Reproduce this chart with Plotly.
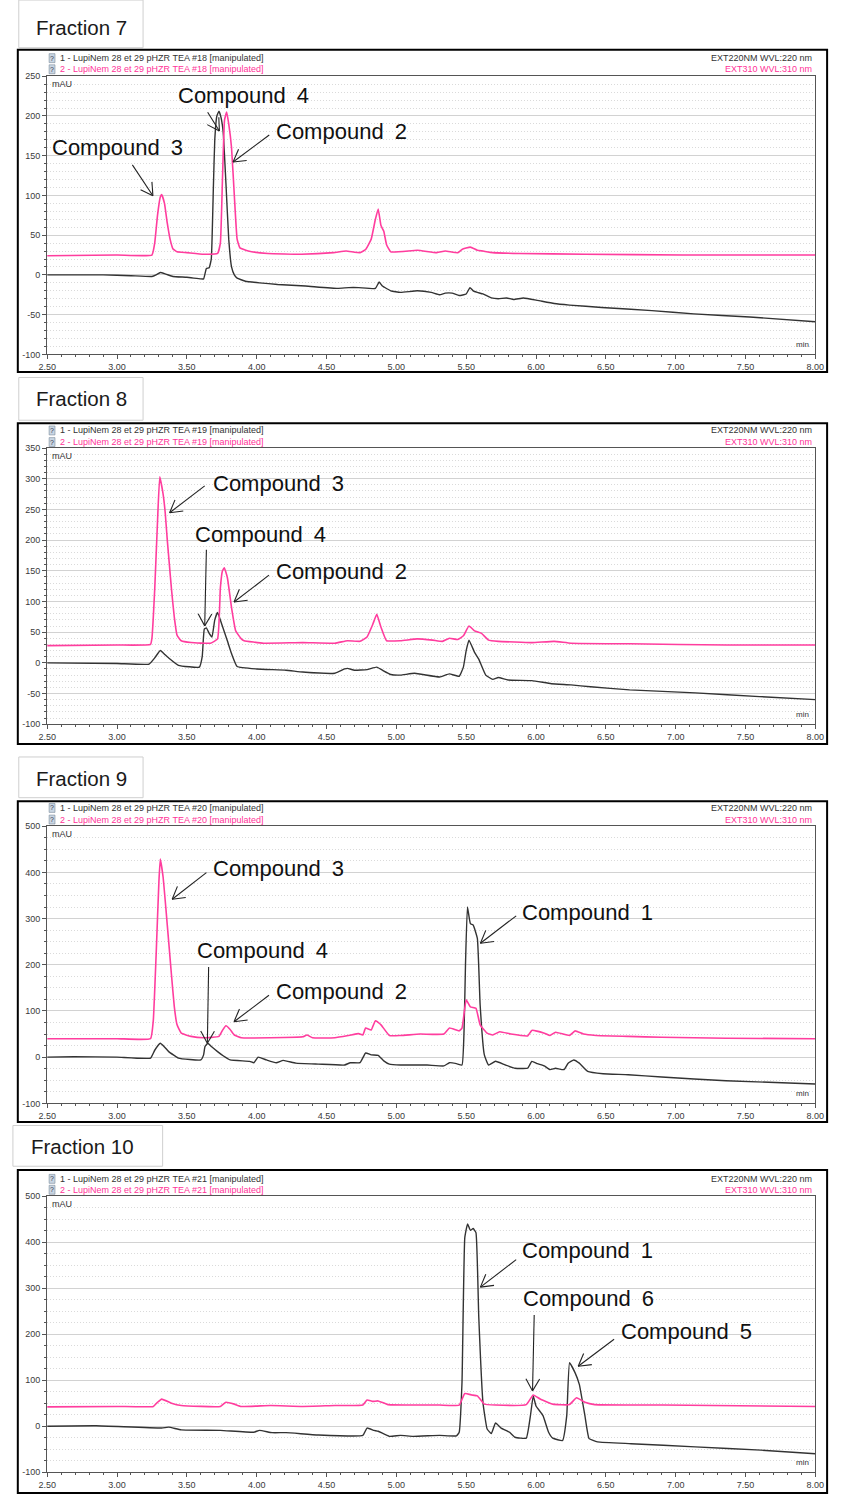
import math
import plotly.graph_objects as go

# ------------------------------------------------------------------ data
time_ticks = [2.5, 3.0, 3.5, 4.0, 4.5, 5.0, 5.5, 6.0, 6.5, 7.0, 7.5, 8.0]
f7_mau_ticks = [-100, -50, 0, 50, 100, 150, 200, 250]
f8_mau_ticks = [-100, -50, 0, 50, 100, 150, 200, 250, 300, 350]
f9_mau_ticks = [-100, 0, 100, 200, 300, 400, 500]
f10_mau_ticks = [-100, 0, 100, 200, 300, 400, 500]

fractions = ["Fraction 7", "Fraction 8", "Fraction 9", "Fraction 10"]
run_ids = ["#18", "#19", "#20", "#21"]
channel_220 = "EXT220NM WVL:220 nm"
channel_310 = "EXT310 WVL:310 nm"

# Fraction 7
f7_t220 = [2.50, 2.90, 3.10, 3.25, 3.28, 3.31, 3.35, 3.40, 3.50, 3.60, 3.62, 3.64, 3.66, 3.675, 3.69, 3.70, 3.715, 3.73, 3.745, 3.76, 3.78, 3.80, 3.82, 3.84, 3.86, 3.92, 4.02, 4.15, 4.35, 4.58, 4.66, 4.73, 4.85, 4.877, 4.90, 4.96, 5.03, 5.15, 5.25, 5.31, 5.35, 5.40, 5.45, 5.50, 5.527, 5.55, 5.58, 5.62, 5.68, 5.73, 5.79, 5.84, 5.91, 6.01, 6.13, 6.24, 6.47, 6.83, 7.13, 7.53, 8.00]
f7_v220 = [0, 0, -1, -2, 0, 3, 1, -2, -3, -5, -5, 8, 9, 20, 110, 170, 200, 206, 198, 180, 115, 45, 10, 0, -4, -8, -10, -12, -14, -17, -16, -16, -17, -9, -14, -20, -22, -20, -22, -25, -23, -23, -26, -24, -16, -20, -22, -24, -29, -30, -29, -31, -29, -32, -36, -38, -41, -45, -49, -53, -59]
f7_t310 = [2.50, 3.00, 3.25, 3.27, 3.29, 3.31, 3.32, 3.34, 3.36, 3.38, 3.40, 3.43, 3.50, 3.62, 3.72, 3.74, 3.755, 3.77, 3.785, 3.80, 3.82, 3.84, 3.86, 3.88, 3.94, 4.08, 4.32, 4.55, 4.64, 4.74, 4.78, 4.82, 4.85, 4.87, 4.89, 4.91, 4.93, 4.96, 5.15, 5.29, 5.35, 5.44, 5.47, 5.53, 5.58, 5.62, 5.69, 5.88, 6.35, 7.05, 8.00]
f7_v310 = [24, 25, 25, 40, 75, 98, 101, 90, 65, 45, 33, 29, 28, 26, 27, 40, 120, 195, 205, 190, 160, 100, 45, 34, 30, 27, 26, 28, 30, 28, 32, 45, 70, 83, 62, 55, 38, 29, 31, 28, 30, 28, 32, 35, 31, 30, 28, 27, 26, 25, 25]

# Fraction 8
f8_t220 = [2.50, 3.00, 3.23, 3.27, 3.31, 3.34, 3.37, 3.44, 3.59, 3.61, 3.625, 3.64, 3.66, 3.68, 3.70, 3.72, 3.75, 3.79, 3.82, 3.86, 4.00, 4.21, 4.33, 4.56, 4.63, 4.65, 4.70, 4.79, 4.86, 4.90, 4.96, 5.03, 5.13, 5.31, 5.38, 5.45, 5.48, 5.50, 5.52, 5.56, 5.59, 5.64, 5.69, 5.73, 5.80, 5.97, 6.11, 6.25, 6.39, 6.67, 7.14, 7.60, 8.00]
f8_v220 = [0, -1, -2, 8, 20, 14, 8, -4, -7, 10, 55, 57, 48, 42, 70, 82, 63, 36, 15, -6, -10, -12, -15, -17, -10, -9, -12, -11, -7, -12, -19, -20, -17, -23, -18, -22, -7, 20, 37, 17, 6, -20, -27, -24, -28, -29, -34, -36, -39, -44, -49, -55, -60]
f8_t310 = [2.50, 3.00, 3.24, 3.25, 3.27, 3.29, 3.306, 3.33, 3.345, 3.36, 3.375, 3.39, 3.41, 3.43, 3.46, 3.53, 3.67, 3.72, 3.74, 3.755, 3.768, 3.79, 3.82, 3.85, 3.89, 3.91, 4.05, 4.33, 4.56, 4.65, 4.74, 4.79, 4.83, 4.86, 4.89, 4.93, 5.03, 5.15, 5.26, 5.33, 5.38, 5.44, 5.48, 5.52, 5.56, 5.61, 5.66, 5.73, 5.97, 6.13, 6.25, 6.67, 7.37, 8.00]
f8_v310 = [28, 29, 30, 40, 120, 230, 303, 275, 245, 200, 160, 120, 75, 45, 36, 33, 32, 39, 122, 150, 155, 139, 90, 52, 39, 36, 32, 33, 32, 36, 35, 42, 62, 79, 58, 36, 36, 39, 37, 35, 40, 38, 44, 60, 52, 48, 37, 35, 33, 35, 32, 31, 29, 29]

# Fraction 9
f9_t220 = [2.50, 2.69, 3.00, 3.24, 3.27, 3.31, 3.34, 3.37, 3.44, 3.60, 3.62, 3.63, 3.65, 3.68, 3.72, 3.76, 3.81, 3.95, 3.98, 4.01, 4.07, 4.14, 4.19, 4.28, 4.44, 4.63, 4.67, 4.74, 4.78, 4.82, 4.87, 4.91, 4.95, 5.03, 5.22, 5.34, 5.38, 5.43, 5.47, 5.485, 5.495, 5.509, 5.53, 5.55, 5.58, 5.60, 5.63, 5.66, 5.71, 5.78, 5.85, 5.94, 5.97, 6.01, 6.06, 6.10, 6.14, 6.20, 6.23, 6.27, 6.31, 6.37, 6.48, 6.66, 6.90, 7.36, 8.00]
f9_v220 = [0, 1, 0, -2, 15, 30, 22, 12, -2, -6, 5, 23, 30, 22, 12, 3, -6, -9, -12, 0, -6, -12, -7, -13, -15, -17, -12, -12, 9, 5, 4, -8, -15, -17, -17, -19, -12, -14, -17, 60, 200, 325, 289, 286, 257, 113, 5, -17, -9, -17, -24, -24, -9, -14, -19, -27, -24, -27, -13, -6, -13, -31, -36, -38, -43, -51, -58]
f9_t310 = [2.50, 3.00, 3.24, 3.26, 3.28, 3.30, 3.31, 3.33, 3.35, 3.37, 3.39, 3.41, 3.43, 3.46, 3.53, 3.62, 3.73, 3.755, 3.78, 3.81, 3.84, 3.89, 4.10, 4.33, 4.36, 4.40, 4.56, 4.66, 4.73, 4.76, 4.78, 4.82, 4.85, 4.89, 4.95, 5.03, 5.17, 5.34, 5.38, 5.45, 5.47, 5.50, 5.53, 5.57, 5.60, 5.65, 5.69, 5.74, 5.82, 5.94, 5.97, 6.06, 6.10, 6.14, 6.24, 6.28, 6.34, 6.43, 6.66, 6.90, 7.36, 8.00]
f9_v310 = [40, 40, 40, 80, 220, 380, 429, 390, 322, 250, 178, 110, 70, 52, 45, 42, 45, 58, 68, 60, 48, 42, 42, 44, 48, 42, 42, 47, 51, 48, 63, 59, 79, 70, 47, 47, 50, 50, 63, 57, 63, 124, 109, 106, 70, 52, 48, 55, 50, 46, 58, 52, 47, 54, 47, 57, 50, 47, 45, 43, 41, 40]

# Fraction 10
f10_t220 = [2.50, 2.85, 3.32, 3.37, 3.46, 3.74, 3.98, 4.02, 4.11, 4.21, 4.44, 4.76, 4.79, 4.84, 4.87, 4.95, 5.03, 5.12, 5.31, 5.43, 5.45, 5.47, 5.49, 5.51, 5.53, 5.55, 5.57, 5.59, 5.62, 5.65, 5.68, 5.71, 5.75, 5.81, 5.85, 5.93, 5.96, 5.98, 6.00, 6.05, 6.09, 6.12, 6.19, 6.22, 6.24, 6.28, 6.31, 6.35, 6.38, 6.44, 6.68, 7.14, 7.61, 8.00]
f10_v220 = [0, 1, -4, -2, -8, -9, -13, -9, -14, -14, -19, -20, -4, -9, -11, -22, -20, -22, -20, -21, -13, 95, 410, 440, 426, 430, 421, 238, 52, -6, -16, 7, -4, -13, -24, -26, 23, 66, 44, 23, -13, -26, -31, 23, 138, 116, 91, 23, -27, -34, -38, -45, -52, -60]
f10_t310 = [2.50, 3.00, 3.26, 3.29, 3.32, 3.39, 3.46, 3.74, 3.78, 3.84, 3.89, 4.10, 4.33, 4.56, 4.76, 4.79, 4.83, 4.87, 4.94, 5.17, 5.31, 5.45, 5.49, 5.54, 5.58, 5.63, 5.71, 5.93, 5.98, 6.03, 6.12, 6.24, 6.29, 6.35, 6.42, 6.91, 8.00]
f10_v310 = [42, 43, 43, 52, 59, 50, 45, 43, 52, 48, 43, 45, 43, 45, 46, 57, 54, 55, 47, 46, 46, 46, 71, 68, 66, 48, 46, 47, 68, 59, 48, 47, 62, 52, 47, 46, 43]

# compound labels per fraction
f7_labels = ["Compound 4", "Compound 2", "Compound 3"]
f8_labels = ["Compound 3", "Compound 4", "Compound 2"]
f9_labels = ["Compound 3", "Compound 4", "Compound 2", "Compound 1"]
f10_labels = ["Compound 1", "Compound 6", "Compound 5"]

# ------------------------------------------------------------------ layout config
W, H = 841, 1506
X0, X1 = 39, 824
FONT = "Arial, 'Liberation Sans', Helvetica, sans-serif"
BLACK = "#333333"
PINK = "#ff3d9e"
PINK_TXT = "#ff3399"

# annotation placement (text x,y ; arrow tail x,y ; arrow tip x,y) in data units
f7_place = [(3.908, 226, 3.649, 204.6, 3.733, 181), (4.609, 180, 4.090, 176, 3.831, 142), (3.004, 160, 3.110, 138.4, 3.257, 99.6)]
f8_place = [(4.153, 293, 3.628, 288.4, 3.377, 244.6), (4.027, 209, 3.640, 184.4, 3.628, 60.2), (4.609, 149, 4.088, 142.8, 3.838, 99.1)]
f9_place = [(4.157, 408, 3.640, 399.4, 3.395, 341.9), (4.043, 231, 3.656, 195.0, 3.647, 30.1), (4.609, 143, 4.088, 134.0, 3.838, 76.8), (6.372, 313, 5.858, 306.0, 5.602, 246.7)]
f10_place = [(6.372, 382, 5.858, 362.2, 5.602, 302.6), (6.374, 278, 5.987, 241.7, 5.975, 76.8), (7.080, 206, 6.559, 189.2, 6.302, 130.5)]

panels = [
    dict(ymin=-100, ymax=250, yt=f7_mau_ticks, minor=10, top=71.7, bot=351.7,
         box=(9, 45, 836, 369.5), tab=(10, -5, 137, 43), tabtxt=(26, 23), head=(53.5, 64.7),
         d=(f7_t220, f7_v220, f7_t310, f7_v310), labels=f7_labels, place=f7_place),
    dict(ymin=-100, ymax=350, yt=f8_mau_ticks, minor=10, top=446, bot=724,
         box=(9, 421, 836, 744), tab=(10, 375, 137, 418), tabtxt=(26, 396), head=(428.3, 440),
         d=(f8_t220, f8_v220, f8_t310, f8_v310), labels=f8_labels, place=f8_place),
    dict(ymin=-100, ymax=500, yt=f9_mau_ticks, minor=25, top=826.7, bot=1105.7,
         box=(9, 801.5, 836, 1124.5), tab=(10, 757, 137, 798), tabtxt=(26, 779), head=(808.3, 820),
         d=(f9_t220, f9_v220, f9_t310, f9_v310), labels=f9_labels, place=f9_place),
    dict(ymin=-100, ymax=500, yt=f10_mau_ticks, minor=25, top=1199.3, bot=1477,
         box=(9, 1172.7, 836, 1498), tab=(4, 1128, 157, 1169), tabtxt=(20, 1149), head=(1181.7, 1192.7),
         d=(f10_t220, f10_v220, f10_t310, f10_v310), labels=f10_labels, place=f10_place),
]


def xp(x):
    return x / W


def yp(y):
    return 1 - y / H


fig = go.Figure()
layout = dict(width=W, height=H, autosize=False, margin=dict(l=0, r=0, t=0, b=0, pad=0),
              paper_bgcolor="white", plot_bgcolor="white", showlegend=False,
              font=dict(family=FONT, color="#333"))
shapes = []
annots = []

for i, p in enumerate(panels):
    s = "" if i == 0 else str(i + 1)
    xa, ya = "x" + s, "y" + s
    t220, v220, t310, v310 = p["d"]
    fig.add_trace(go.Scatter(x=t220, y=v220, mode="lines", xaxis=xa, yaxis=ya,
                             line=dict(color=BLACK, width=1.4, shape="spline", smoothing=0.35), hoverinfo="skip"))
    fig.add_trace(go.Scatter(x=t310, y=v310, mode="lines", xaxis=xa, yaxis=ya,
                             line=dict(color=PINK, width=1.6, shape="spline", smoothing=0.35), hoverinfo="skip"))

    layout["xaxis" + s] = dict(
        domain=[xp(X0), xp(X1)], range=[2.5, 8.0], anchor=ya,
        tickmode="array", tickvals=time_ticks, ticktext=["%.2f" % v for v in time_ticks],
        ticks="outside", ticklen=4, tickcolor="#555", tickwidth=1,
        showline=True, mirror=True, linecolor="#555", linewidth=1,
        showgrid=False, zeroline=False, fixedrange=True,
        tickfont=dict(size=9, color="#3a3a3a", family=FONT),
        minor=dict(tickmode="linear", tick0=2.5, dtick=0.1, ticklen=2, tickcolor="#555", showgrid=False))
    layout["yaxis" + s] = dict(
        domain=[yp(p["bot"]), yp(p["top"])], range=[p["ymin"], p["ymax"]], anchor=xa,
        tickmode="array", tickvals=p["yt"], ticktext=[str(v) for v in p["yt"]],
        ticks="outside", ticklen=4, tickcolor="#555", tickwidth=1,
        showline=True, mirror=True, linecolor="#555", linewidth=1,
        showgrid=True, gridcolor="#d2d2d2", gridwidth=1, zeroline=False, fixedrange=True,
        tickfont=dict(size=9, color="#3a3a3a", family=FONT),
        minor=dict(tickmode="linear", tick0=p["ymin"], dtick=p["minor"], ticklen=2, tickcolor="#555",
                   showgrid=True, gridcolor="#dadada", griddash="1px,2px", gridwidth=1))

    # outer box and tab
    bx0, by0, bx1, by1 = p["box"]
    shapes.append(dict(type="rect", xref="paper", yref="paper", x0=xp(bx0), x1=xp(bx1), y0=yp(by1), y1=yp(by0),
                       line=dict(color="black", width=2), layer="above"))
    tx0, ty0, tx1, ty1 = p["tab"]
    shapes.append(dict(type="rect", xref="paper", yref="paper", x0=xp(tx0), x1=xp(tx1), y0=yp(ty1), y1=yp(ty0),
                       line=dict(color="#cfcfcf", width=1), fillcolor="white", layer="below"))
    annots.append(dict(text=fractions[i], xref="paper", yref="paper", x=xp(p["tabtxt"][0]), y=yp(p["tabtxt"][1]),
                       xanchor="left", yanchor="middle", showarrow=False,
                       font=dict(size=20.5, color="#1a1a1a", family=FONT)))

    # header lines
    h1, h2 = p["head"]
    for hy, col, num in ((h1, "#333333", "1"), (h2, PINK_TXT, "2")):
        shapes.append(dict(type="rect", xref="paper", yref="paper", x0=xp(41), x1=xp(47), y0=yp(hy + 4.5), y1=yp(hy - 4.5),
                           line=dict(color="#7a8a9a", width=0.6), fillcolor="#c9d6e3", layer="above"))
        annots.append(dict(text="?", xref="paper", yref="paper", x=xp(44), y=yp(hy), xanchor="center", yanchor="middle",
                           showarrow=False, font=dict(size=7, color="#334", family=FONT)))
        annots.append(dict(text="%s - LupiNem 28 et 29 pHZR TEA %s [manipulated]" % (num, run_ids[i]),
                           xref="paper", yref="paper", x=xp(50), y=yp(hy), xanchor="left", yanchor="middle",
                           showarrow=False, font=dict(size=9, color=col, family=FONT)))
    annots.append(dict(text=channel_220, xref="paper", yref="paper", x=xp(823), y=yp(h1), xanchor="right",
                       yanchor="middle", showarrow=False, font=dict(size=9, color="#333333", family=FONT)))
    annots.append(dict(text=channel_310, xref="paper", yref="paper", x=xp(823), y=yp(h2), xanchor="right",
                       yanchor="middle", showarrow=False, font=dict(size=9, color=PINK_TXT, family=FONT)))
    annots.append(dict(text="mAU", xref="paper", yref="paper", x=xp(42), y=yp(p["top"] + 8), xanchor="left",
                       yanchor="middle", showarrow=False, font=dict(size=9, color="#333", family=FONT)))
    annots.append(dict(text="min", xref="paper", yref="paper", x=xp(820), y=yp(p["bot"] - 10), xanchor="right",
                       yanchor="middle", showarrow=False, font=dict(size=8, color="#333", family=FONT)))

    # compound labels with open V-head arrows
    sx = (X1 - X0) / (8.0 - 2.5)
    sy = (p["bot"] - p["top"]) / (p["ymax"] - p["ymin"])
    for lab, (lx, ly, ax_, ay_, tipx, tipy) in zip(p["labels"], p["place"]):
        annots.append(dict(text=lab.replace(" ", "\u2002"), xref=xa, yref=ya, x=lx, y=ly, xanchor="center",
                           yanchor="middle", showarrow=False, font=dict(size=22, color="#111", family=FONT)))
        shapes.append(dict(type="line", xref=xa, yref=ya, x0=ax_, y0=ay_, x1=tipx, y1=tipy,
                           line=dict(color="#222", width=1.1), layer="above"))
        dx = (ax_ - tipx) * sx
        dy = -(ay_ - tipy) * sy
        n = math.hypot(dx, dy)
        ux, uy = dx / n, dy / n
        for ang in (math.radians(30), -math.radians(30)):
            rx = ux * math.cos(ang) - uy * math.sin(ang)
            ry = ux * math.sin(ang) + uy * math.cos(ang)
            ex = tipx + 14 * rx / sx
            ey = tipy - 14 * ry / sy
            shapes.append(dict(type="line", xref=xa, yref=ya, x0=tipx, y0=tipy, x1=ex, y1=ey,
                               line=dict(color="#222", width=1.1), layer="above"))

layout["shapes"] = shapes
layout["annotations"] = annots
fig.update_layout(**layout)
fig.write_html("out.html", config={"displayModeBar": False},
               post_script="document.body.style.margin='0';document.body.style.padding='0';"
                           "document.documentElement.style.overflow='hidden';")
